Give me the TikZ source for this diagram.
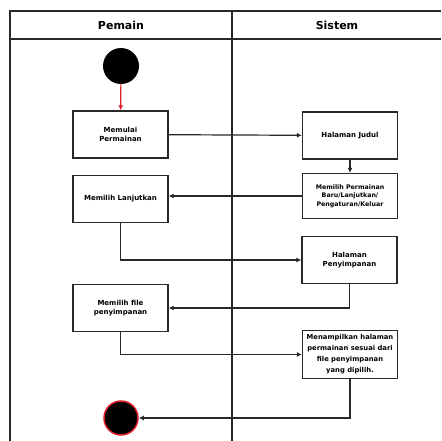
\documentclass[tikz,border=0pt]{standalone}
\usepackage{fontspec}
\setmainfont{DejaVu Sans}
\usepackage{tikz}
\usetikzlibrary{arrows.meta,positioning}
\definecolor{lanegray}{RGB}{40,40,40}
\definecolor{startred}{RGB}{220,30,40}

\begin{document}
\begin{tikzpicture}[x=1pt,y=-1pt,
  act/.style={draw=lanegray, line width=1.3pt, minimum width=95pt, minimum height=47pt,
    align=center, inner sep=0.5pt, font=\fontsize{7}{9}\selectfont\bfseries},
  flow/.style={draw=lanegray, line width=1.2pt, -{Latex[length=5pt,width=5pt]}}]
\useasboundingbox (0,0) rectangle (441,441);
% swimlanes
\draw[lanegray, line width=1.3pt] (10,442) -- (10,11) -- (441,11);
\draw[lanegray, line width=1.3pt] (10,39) -- (441,39);
\draw[lanegray, line width=1.3pt] (232,11) -- (232,442);
\node[font=\fontsize{11}{12}\selectfont\bfseries] (pemain) at (121,25) {Pemain};
\node[font=\fontsize{11}{12}\selectfont\bfseries] (sistem) at (337,25) {Sistem};
% start and end
\node[circle, fill=black, minimum size=36pt, inner sep=0pt] (start) at (121,66) {};
\node[circle, fill=black, draw=startred, line width=1.5pt, minimum size=34pt, inner sep=0pt] (finish) at (121,418) {};
% activities
\node[act] (mulai) at (120.5,134.5) {Memulai\\Permainan};
\node[act] (judul) at (350,135.5) {Halaman Judul};
\node[act, minimum height=45pt, font=\fontsize{6.3}{8.5}\selectfont\bfseries] (menu) at (350,196) {Memilih Permainan\\Baru/Lanjutkan/\\Pengaturan/Keluar};
\node[act] (lanjut) at (120.5,199) {Memilih Lanjutkan};
\node[act] (simpan) at (349.5,260) {Halaman\\Penyimpanan};
\node[act] (pilihfile) at (120.5,308) {Memilih file\\penyimpanan};
\node[act, minimum height=48pt, font=\fontsize{6.8}{11}\selectfont\bfseries] (tampil) at (350,354.5) {Menampilkan halaman\\permainan sesuai dari\\file penyimpanan\\yang dipilih.};
% connectors
\draw[flow, draw=startred] (start) -- (mulai);
\draw[flow] (mulai) -- (judul);
\draw[flow] (judul) -- (menu);
\draw[flow] (menu.west) -- (menu.west -| lanjut.east);
\draw[flow] (lanjut.south) |- (simpan.west);
\draw[flow] (simpan.south) |- (pilihfile.east);
\draw[flow] (pilihfile.south) |- (tampil.west);
\draw[flow] (tampil.south) |- (finish.east);
\end{tikzpicture}
\end{document}
